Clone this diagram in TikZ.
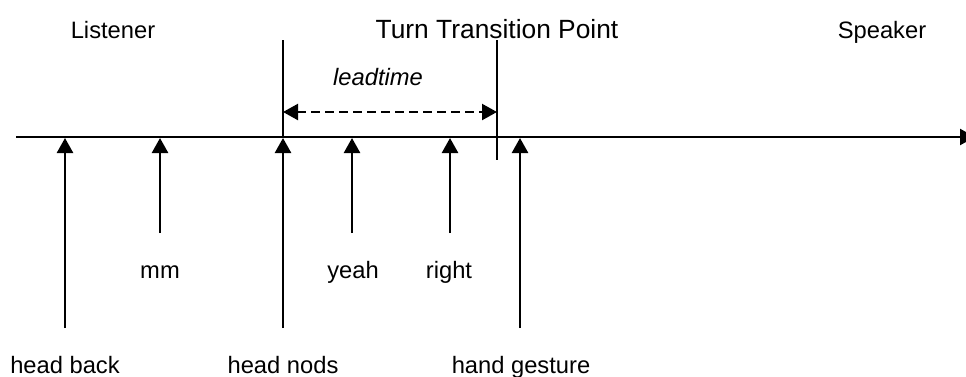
\documentclass[tikz,border=0pt]{standalone}
\usepackage{fontspec}
\setmainfont{Liberation Sans}
\usetikzlibrary{arrows.meta}
\tikzset{
  lbl/.style={inner sep=0pt, anchor=base, font=\fontsize{13.5}{16}\selectfont},
  ttplbl/.style={inner sep=0pt, anchor=base, font=\fontsize{15}{18}\selectfont},
  tick/.style={line width=0.03cm},
  cue/.style={line width=0.05cm, -{Triangle[width=0.32cm,length=0.3cm]}},
}
\begin{document}
\begin{tikzpicture}
                    \useasboundingbox (0,0) rectangle (19.32,7.52);

                    % Labels on top
                    \node[lbl] (listener) at (2.26,6.76) {Listener};
                    \node[ttplbl] (ttp) at (9.94,6.76) {Turn Transition Point};
                    \node[lbl] (speaker) at (17.64,6.76) {Speaker};

                    % Time line
                    \coordinate (tstart) at (0.32,4.78);
                    \coordinate (tend) at (19.5,4.78);
                    \draw [line width=0.045cm, -{Triangle[width=0.32cm,length=0.3cm]}] (tstart) -- (tend);

                    % Drawing line head nods (start of lead time)
                    \coordinate (lttop) at (5.66,6.72);
                    \coordinate (ltbot) at (5.66,4.78);
                    \draw [tick] (lttop) -- (ltbot);

                    % Drawing line turn transition point
                    \coordinate (ttptop) at (9.94,6.72);
                    \coordinate (ttpbot) at (9.94,4.32);
                    \draw [tick] (ttptop) -- (ttpbot);

                    % Lead time
                    \coordinate (lta) at (5.66,5.28);
                    \coordinate (ltb) at (9.94,5.28);
                    \draw [line width=0.045cm, dashed, dash pattern=on 0.18cm off 0.1cm,
                           {Triangle[width=0.32cm,length=0.3cm]}-{Triangle[width=0.32cm,length=0.3cm]}] (lta) -- (ltb);
                    \node[lbl] (leadtime) at (7.56,5.82) {\itshape leadtime};

                    % Cue labels
                    \node[lbl] (headback) at (1.3,0.06) {head back};
                    \node[lbl] (mm) at (3.2,1.96) {mm};
                    \node[lbl] (headnods) at (5.66,0.06) {head nods};
                    \node[lbl] (yeah) at (7.06,1.96) {yeah};
                    \node[lbl] (right) at (8.98,1.96) {right};
                    \node[lbl] (handgesture) at (10.42,0.06) {hand gesture};

                    % Cue arrows
                    \coordinate (hbA) at (1.3,0.96);   \coordinate (hbB) at (1.3,4.76);
                    \coordinate (mmA) at (3.2,2.86);   \coordinate (mmB) at (3.2,4.76);
                    \coordinate (hnA) at (5.66,0.96);  \coordinate (hnB) at (5.66,4.76);
                    \coordinate (yeA) at (7.04,2.86);  \coordinate (yeB) at (7.04,4.76);
                    \coordinate (riA) at (9.0,2.86);   \coordinate (riB) at (9.0,4.76);
                    \coordinate (hgA) at (10.4,0.96);  \coordinate (hgB) at (10.4,4.76);
                    \draw [cue] (hbA) -- (hbB);
                    \draw [cue] (mmA) -- (mmB);
                    \draw [cue] (hnA) -- (hnB);
                    \draw [cue] (yeA) -- (yeB);
                    \draw [cue] (riA) -- (riB);
                    \draw [cue] (hgA) -- (hgB);
\end{tikzpicture}
\end{document}
